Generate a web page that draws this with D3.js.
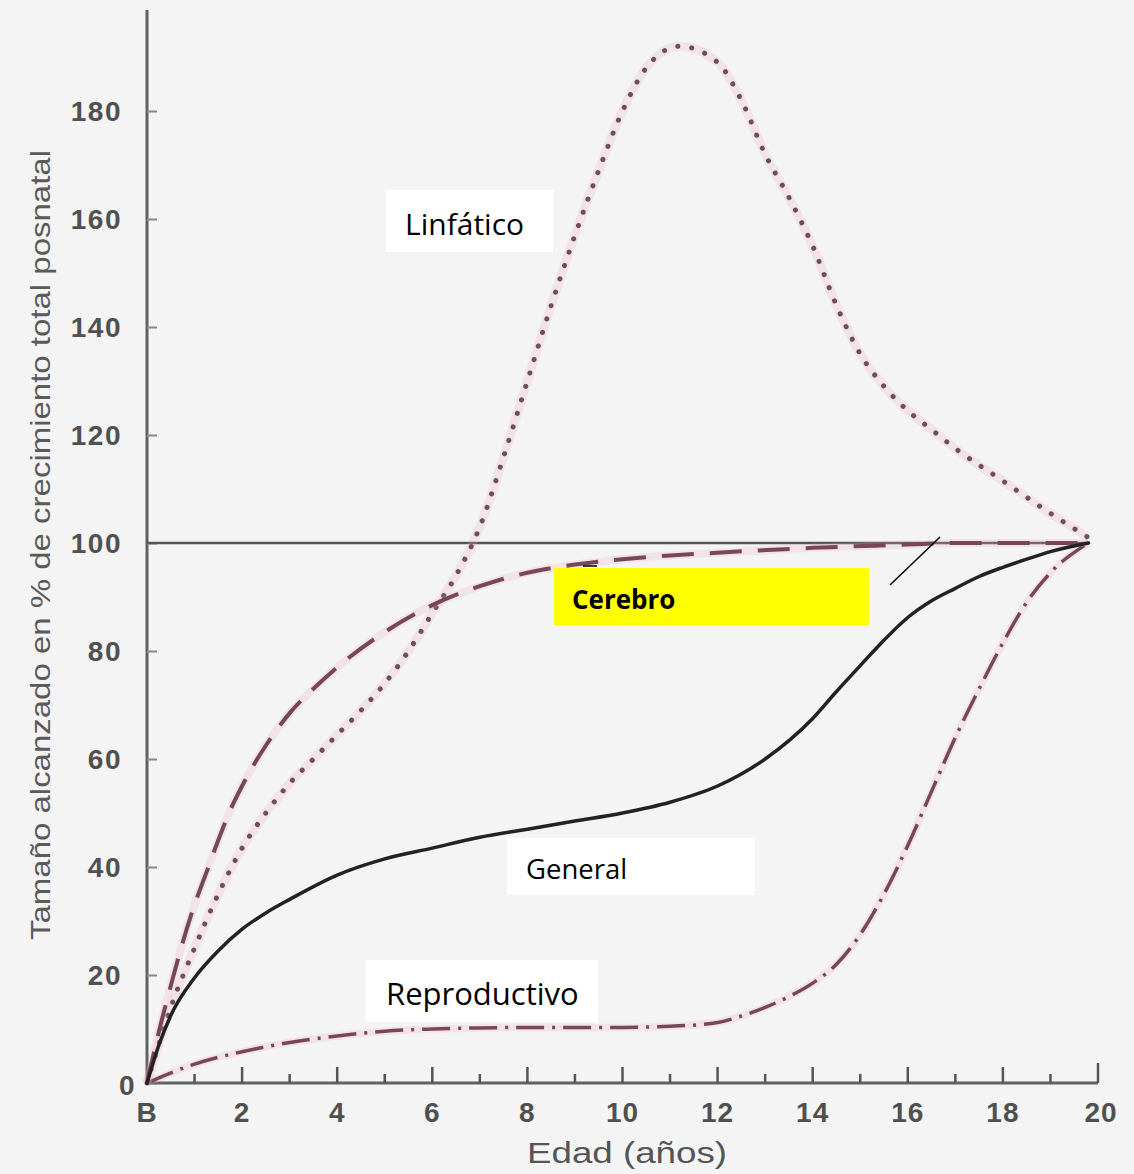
<!DOCTYPE html>
<html><head><meta charset="utf-8">
<script src="https://cdn.jsdelivr.net/npm/d3@7"></script>
<style>
html,body{margin:0;padding:0;background:#fff;}
svg{display:block;}
</style></head>
<body>
<script>
// ---- data ----
const xTickValues = [0,2,4,6,8,10,12,14,16,18,20];
const xTickLabels = ["B","2","4","6","8","10","12","14","16","18","20"];
const yTickValues = [0,20,40,60,80,100,120,140,160,180];

const linfaticoAge = [0,0.5,1,1.5,2,2.5,3,3.5,4,4.5,5,5.5,6,6.5,7,7.5,8,8.5,9,9.5,10,10.5,11.2,12,12.5,13,13.5,14,14.5,15,15.5,16,16.5,17,18,19,19.8];
const linfaticoVal = [0,14,25,35,43.5,50,55.5,60,64.5,69,74,80,87,94,103,116,130,144,157,169,180,188,192,189,182,172,164,155,144,135,129,124.5,121,117.5,111.5,105.5,101];

const cerebroAge = [0,0.25,0.5,0.75,1,1.25,1.5,1.75,2,2.25,2.5,3,3.5,4,5,6,7,8,9,10,12,14,16,17,19.8];
const cerebroVal = [0,9.5,18,26,33,39,45,50.5,55,59,62.5,68.5,73,77,83.5,88.5,92,94.5,96,97,98.2,99.1,99.7,100,100];

const generalAge = [0,0.25,0.5,1,1.5,2,2.5,3,4,5,6,7,8,9,10,11,12,13,14,14.5,15,15.5,16,16.5,17,17.5,18,18.5,19,19.8];
const generalVal = [0,7,12.5,19.5,24.5,28.5,31.5,34,38.5,41.5,43.5,45.5,47,48.5,50,52,55,60,67.5,72.5,77.3,82,86.2,89.3,91.6,93.8,95.5,97,98.4,100];

const reproAge = [0,1,2,3,4,5,6,7,8,9,10,11,12,12.5,13,13.5,14,14.5,15,15.5,16,16.5,17,17.5,18,18.5,19,19.8];
const reproVal = [0,3.5,5.8,7.5,8.7,9.6,10,10.2,10.3,10.3,10.3,10.5,11.2,12.4,14,16,18.5,22,27.5,35,44,54,64,73,81.5,89,94.5,100];

const labels = ["Linfático","Cerebro","General","Reproductivo"];

// ---- drawing ----
const W = 1134, H = 1174;
const svg = d3.select("body").append("svg").attr("width", W).attr("height", H);
svg.append("rect").attr("width", W).attr("height", H).attr("fill", "#f3f4f3");

const x = d3.scaleLinear().domain([0,20]).range([147,1098]);
const y = d3.scaleLinear().domain([0,100]).range([1083,543]);

const axisColor = "#5d6262";
const numFont = "'Liberation Sans', Arial, sans-serif";

// y axis line
svg.append("line").attr("x1", x(0)).attr("x2", x(0)).attr("y1", y(0)).attr("y2", 10)
  .attr("stroke", axisColor).attr("stroke-width", 3);

// y ticks and labels
const yAxis = d3.axisRight(y).tickValues(yTickValues).tickSize(10).tickFormat("");
const gy = svg.append("g").attr("transform", `translate(${x(0)},0)`).call(yAxis);
gy.select(".domain").remove();
gy.selectAll(".tick line").attr("stroke", "#888").attr("stroke-width", 2);
svg.append("g").selectAll("text").data(yTickValues).join("text")
  .attr("x", d => d === 0 ? 136 : 122).attr("y", d => y(d) + 10 + (d===0?2:0))
  .attr("text-anchor", "end").attr("font-family", numFont).attr("font-weight", "bold")
  .attr("font-size", 28).attr("fill", "#505050").attr("letter-spacing", 1.5)
  .text(d => d);

// x axis
svg.append("line").attr("x1", x(0)).attr("x2", x(20)).attr("y1", y(0)).attr("y2", y(0))
  .attr("stroke", axisColor).attr("stroke-width", 3);
const minorTicks = d3.range(1,20,1);
svg.append("g").selectAll("line").data(minorTicks).join("line")
  .attr("x1", d => x(d)).attr("x2", d => x(d))
  .attr("y1", y(0)).attr("y2", d => y(0) - (d % 2 === 0 ? 16 : 9))
  .attr("stroke", "#555").attr("stroke-width", 2.5);
svg.append("line").attr("x1", x(20)).attr("x2", x(20)).attr("y1", y(0)).attr("y2", y(0)-20)
  .attr("stroke", "#555").attr("stroke-width", 2.5);
svg.append("g").selectAll("text").data(xTickValues).join("text")
  .attr("x", d => x(d) + (d===20?3:0)).attr("y", 1122)
  .attr("text-anchor", "middle").attr("font-family", numFont).attr("font-weight", "bold")
  .attr("font-size", 28).attr("fill", "#505050").attr("letter-spacing", 1)
  .text((d,i) => xTickLabels[i]);

// axis titles
svg.append("text").attr("x", 527).attr("y", 1163)
  .attr("font-family", numFont).attr("font-size", 30).attr("fill", "#555")
  .attr("textLength", 200).attr("lengthAdjust", "spacingAndGlyphs").text("Edad (años)");
svg.append("text").attr("transform", "translate(50,940) rotate(-90)")
  .attr("font-family", numFont).attr("font-size", 28).attr("fill", "#5a5a5a")
  .attr("textLength", 790).attr("lengthAdjust", "spacingAndGlyphs")
  .text("Tamaño alcanzado en % de crecimiento total posnatal");

// 100% reference line
svg.append("line").attr("x1", x(0)).attr("x2", x(19.8)).attr("y1", y(100)).attr("y2", y(100))
  .attr("stroke", "#555").attr("stroke-width", 2.5);

const line = d3.line().x(d => x(d[0])).y(d => y(d[1])).curve(d3.curveMonotoneX);
const zip = (a,b) => a.map((v,i) => [v,b[i]]);

function drawSeries(data, color, width, dash, cap, halo) {
  if (halo) {
    svg.append("path").datum(data).attr("d", line).attr("fill", "none")
      .attr("stroke", "rgba(240,170,190,0.22)").attr("stroke-width", width + 4);
  }
  svg.append("path").datum(data).attr("d", line).attr("fill", "none")
    .attr("stroke", color).attr("stroke-width", width)
    .attr("stroke-dasharray", dash).attr("stroke-linecap", cap);
}

drawSeries(zip(reproAge, reproVal), "#77465a", 3.5, "28,8,3,8", "butt", true);
drawSeries(zip(linfaticoAge, linfaticoVal), "#6e4e5c", 5, "0.1,14", "round", true);
drawSeries(zip(cerebroAge, cerebroVal), "#77465a", 4, "32,16", "butt", true);
drawSeries(zip(generalAge, generalVal), "#222", 3.5, null, "round", false);

// labels
const lblFont = "'Open Sans', 'Noto Sans', sans-serif";
// Linfático
svg.append("rect").attr("x", 386).attr("y", 190).attr("width", 167).attr("height", 62).attr("fill", "#fff");
svg.append("text").attr("x", 405).attr("y", 235).attr("font-family", lblFont).attr("font-size", 30)
  .attr("fill", "#000").text(labels[0]);
// Cerebro
svg.append("rect").attr("x", 554).attr("y", 568).attr("width", 315).attr("height", 57).attr("fill", "#ffff00");
svg.append("text").attr("x", 572).attr("y", 609).attr("font-family", lblFont).attr("font-size", 26)
  .attr("font-weight", "bold").attr("fill", "#000").text(labels[1]);
svg.append("line").attr("x1", 583).attr("x2", 597).attr("y1", 566).attr("y2", 566)
  .attr("stroke", "#000").attr("stroke-width", 1.5);
svg.append("line").attr("x1", 890).attr("x2", 940).attr("y1", 585).attr("y2", 537)
  .attr("stroke", "#000").attr("stroke-width", 1.5);
// General
svg.append("rect").attr("x", 507).attr("y", 838).attr("width", 248).attr("height", 57).attr("fill", "#fff");
svg.append("text").attr("x", 526).attr("y", 879).attr("font-family", lblFont).attr("font-size", 27.5)
  .attr("fill", "#000").text(labels[2]);
// Reproductivo
svg.append("rect").attr("x", 366).attr("y", 960).attr("width", 232).attr("height", 62).attr("fill", "#fff");
svg.append("text").attr("x", 386).attr("y", 1005).attr("font-family", lblFont).attr("font-size", 31)
  .attr("fill", "#000").text(labels[3]);
</script>
</body></html>
